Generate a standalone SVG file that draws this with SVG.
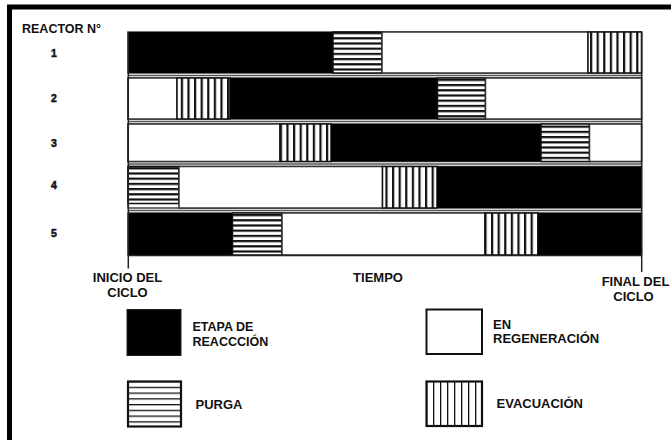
<svg xmlns="http://www.w3.org/2000/svg" width="671" height="440" viewBox="0 0 671 440">
<defs>
<pattern id="ph" width="10" height="5.2" patternUnits="userSpaceOnUse" patternTransform="translate(0,32)">
<rect width="10" height="5.2" fill="#fff"/><rect y="0" width="10" height="2.2" fill="#111"/>
</pattern>
<pattern id="pv" width="6.6" height="10" patternUnits="userSpaceOnUse" patternTransform="translate(128,0)">
<rect width="6.6" height="10" fill="#fff"/><rect x="0" width="2.2" height="10" fill="#111"/>
</pattern>
<pattern id="phL" width="10" height="5.75" patternUnits="userSpaceOnUse" patternTransform="translate(0,381)">
<rect width="10" height="5.75" fill="#fff"/><rect y="-1.2" width="10" height="2.5" fill="#111"/>
</pattern>
<pattern id="pvL" width="7" height="10" patternUnits="userSpaceOnUse" patternTransform="translate(426,0)">
<rect width="7" height="10" fill="#fff"/><rect x="-1.2" width="2.5" height="10" fill="#111"/>
</pattern>
</defs>
<style>
text{font-family:"Liberation Sans",Arial,sans-serif;font-weight:bold;fill:#111}
.row{fill:#fff;stroke:#444;stroke-width:1.5}
.blk{fill:#000}
.h{fill:url(#ph);stroke:#111;stroke-width:1.5}
.v{fill:url(#pv);stroke:#111;stroke-width:1.5}
.w{fill:#fff;stroke:#333;stroke-width:1.5}
.gap{stroke:#555;stroke-width:1.5;fill:none}
.ax{stroke:#222;stroke-width:1.5;fill:none}
.num{font-size:10.5px;stroke:#111;stroke-width:0.5}
</style>
<rect width="671" height="440" fill="#fff"/>
<path d="M9.5,440 V7 H671" fill="none" stroke="#000" stroke-width="5"/>

<text x="22" y="33" font-size="12.5">REACTOR N°</text>

<g id="labels-rows" text-anchor="middle">
<text class="num" x="54" y="57" text-anchor="middle">1</text>
<text class="num" x="54" y="102" text-anchor="middle">2</text>
<text class="num" x="54" y="146.5" text-anchor="middle">3</text>
<text class="num" x="54" y="189" text-anchor="middle">4</text>
<text class="num" x="54" y="236.5" text-anchor="middle">5</text>
</g>

<g id="reactor1">
<rect class="row" x="128" y="32" width="513.5" height="41"/>
<rect class="blk" x="128" y="32" width="205" height="41"/>
<rect class="h" x="333" y="32" width="49" height="41"/>
<rect class="w" x="382" y="32" width="206" height="41"/>
<rect class="v" x="588" y="32" width="53.5" height="41"/>
</g>
<g id="reactor2">
<rect class="row" x="128" y="78" width="513.5" height="41"/>
<rect class="w" x="128" y="78" width="49" height="41"/>
<rect class="v" x="177" y="78" width="53" height="41"/>
<rect class="blk" x="230" y="78" width="207.5" height="41"/>
<rect class="h" x="437.5" y="78" width="48" height="41"/>
<rect class="w" x="485.5" y="78" width="156" height="41"/>
</g>
<g id="reactor3">
<rect class="row" x="128" y="124" width="513.5" height="37.5"/>
<rect class="w" x="128" y="124" width="152" height="37.5"/>
<rect class="v" x="280" y="124" width="51" height="37.5"/>
<rect class="blk" x="331" y="124" width="210" height="37.5"/>
<rect class="h" x="541" y="124" width="48.5" height="37.5"/>
<rect class="w" x="589.5" y="124" width="52" height="37.5"/>
</g>
<g id="reactor4">
<rect class="row" x="128" y="166.5" width="513.5" height="41.5"/>
<rect class="h" x="128" y="166.5" width="51" height="37"/>
<rect class="w" x="179" y="166.5" width="203.5" height="41.5"/>
<rect class="v" x="382.5" y="166.5" width="54.5" height="41.5"/>
<rect class="blk" x="437" y="166.5" width="204.5" height="41.5"/>
</g>
<g id="reactor5">
<rect class="row" x="128" y="213" width="513.5" height="42"/>
<rect class="blk" x="128" y="213" width="104.5" height="42"/>
<rect class="h" x="232.5" y="213" width="49.5" height="42"/>
<rect class="w" x="282" y="213" width="203" height="42"/>
<rect class="v" x="485" y="213" width="53" height="42"/>
<rect class="blk" x="538" y="213" width="103.5" height="42"/>
</g>

<g id="connectors">
<line class="gap" x1="128" y1="75.5" x2="641.5" y2="75.5"/>
<line class="gap" x1="128" y1="121.5" x2="641.5" y2="121.5"/>
<line class="gap" x1="128" y1="164" x2="641.5" y2="164"/>
<line class="gap" x1="128" y1="210.5" x2="641.5" y2="210.5"/>
<path class="ax" d="M128.3,32 V268.5"/>
<path class="ax" d="M641.7,32 V272"/>
<line class="ax" x1="128" y1="255.5" x2="641.7" y2="255.5"/>
</g>

<g id="axis-labels">
<text x="127.5" y="282" text-anchor="middle" font-size="13">INICIO DEL</text>
<text x="127.5" y="296.5" text-anchor="middle" font-size="13">CICLO</text>
<text x="378" y="282" text-anchor="middle" font-size="13">TIEMPO</text>
<text x="635.5" y="286" text-anchor="middle" font-size="13">FINAL DEL</text>
<text x="633.5" y="300.5" text-anchor="middle" font-size="13">CICLO</text>
</g>

<g id="legend-reaccion">
<rect x="127" y="309.5" width="54" height="46" fill="#000" stroke="#222" stroke-width="1"/>
<text x="192.5" y="331" font-size="12.5">ETAPA DE</text>
<text x="192.5" y="346" font-size="12.5">REACCCIÓN</text>
</g>
<g id="legend-regeneracion">
<rect x="426.5" y="309.5" width="55.5" height="44.5" fill="#fff" stroke="#111" stroke-width="2"/>
<text x="493" y="329" font-size="13">EN</text>
<text x="493" y="343" font-size="13">REGENERACIÓN</text>
</g>
<g id="legend-purga">
<rect x="128" y="381.5" width="53" height="45" fill="url(#phL)" stroke="#111" stroke-width="2.2"/>
<text x="195.5" y="409" font-size="13">PURGA</text>
</g>
<g id="legend-evacuacion">
<rect x="426.5" y="381.5" width="55.5" height="44.5" fill="url(#pvL)" stroke="#111" stroke-width="2.2"/>
<text x="496.5" y="408" font-size="13">EVACUACIÓN</text>
</g>
</svg>
